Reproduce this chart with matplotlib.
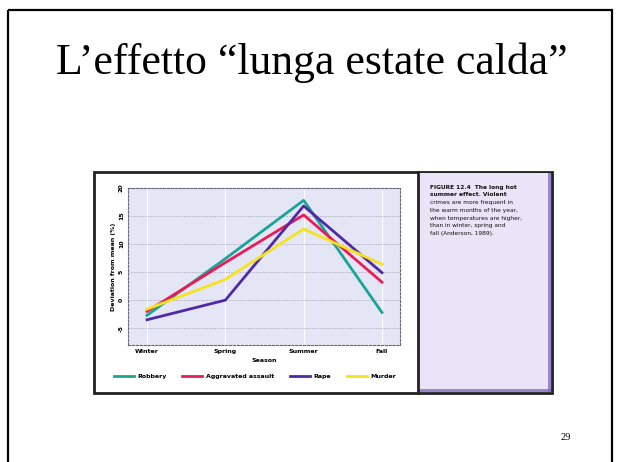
import matplotlib
matplotlib.use("Agg")
import matplotlib.pyplot as plt
from matplotlib.patches import Rectangle
from matplotlib.lines import Line2D

# Seasonal data: percent deviation from the yearly mean of violent crimes
seasons = ["Winter", "Spring", "Summer", "Fall"]
series_names = ["Robbery", "Aggravated assault", "Rape", "Murder"]
robbery = [-2.7, 7.4, 17.8, -2.2]
assault = [-2.0, 6.7, 15.2, 3.2]
rape = [-3.5, 0.0, 16.8, 4.9]
murder = [-1.6, 3.7, 12.7, 6.4]
yticks = [-5, 0, 5, 10, 15, 20]
colors = ["#17a596", "#ec1a55", "#5029a8", "#f6e21e"]

W, H = 621, 462
fig = plt.figure(figsize=(W / 100, H / 100), dpi=100)

# background layer in pixel coordinates
bg = fig.add_axes([0, 0, 1, 1])
bg.set_xlim(0, W)
bg.set_ylim(H, 0)
bg.axis("off")

# slide frame
bg.add_patch(Rectangle((8, 10), 604, 470, fill=False, ec="black", lw=1.6))

bg.text(312, 63, "L\u2019effetto \u201clunga estate calda\u201d", ha="center", va="center",
        fontsize=31.5, family="Liberation Serif", color="black")
bg.text(566, 437, "29", ha="center", va="center", fontsize=7.5,
        family="Liberation Serif", color="black")

# figure panel
bg.add_patch(Rectangle((94, 172), 458, 221, fc="white", ec="#222222", lw=2.0))
# caption panel
bg.add_patch(Rectangle((418, 173), 133, 219, fc="#ebe3f7", ec="none"))
bg.add_patch(Rectangle((548, 173), 3, 219, fc="#7b67c2", ec="none", alpha=0.75))
bg.add_patch(Rectangle((418, 389), 133, 3, fc="#7b67c2", ec="none", alpha=0.75))
bg.plot([418, 418], [172, 393], color="#222222", lw=2.0)

caption = [
    ("FIGURE 12.4  The long hot", True),
    ("summer effect. Violent", True),
    ("crimes are more frequent in", False),
    ("the warm months of the year,", False),
    ("when temperatures are higher,", False),
    ("than in winter, spring and", False),
    ("fall (Anderson, 1989).", False),
]
for i, (line, bold) in enumerate(caption):
    bg.text(430, 187 + i * 7.8, line, ha="left", va="center", fontsize=4.2,
            fontweight="bold" if bold else "normal", color="#111111")

# line chart
ax = fig.add_axes([128 / W, (H - 345) / H, 272 / W, 157 / H])
ax.set_facecolor("#e4e6f6")
x = list(range(len(seasons)))
for vals, c in zip([robbery, assault, rape, murder], colors):
    ax.plot(x, vals, color=c, lw=2.0)
ax.set_xlim(-0.243, 3.23)
ax.set_ylim(-8, 20)
ax.set_xticks(x)
ax.set_xticklabels(seasons, fontsize=4.5, fontweight="bold")
ax.set_yticks(yticks)
ax.set_yticklabels([str(v) for v in yticks], fontsize=4.5, fontweight="bold", rotation=90,
                   va="center")
ax.tick_params(length=0, pad=3)
ax.grid(axis="y", color="#9a9ab0", ls=(0, (2, 2)), lw=0.5)
ax.grid(axis="x", color="white", lw=0.8)
for s in ax.spines.values():
    s.set_color("#666677")
    s.set_linestyle((0, (2, 1.5)))
    s.set_linewidth(0.8)
ax.set_xlabel("Season", fontsize=4.5, fontweight="bold", labelpad=3)
ax.set_ylabel("Deviation from mean (%)", fontsize=4.5, fontweight="bold", labelpad=2)

handles = [Line2D([0], [0], color=c, lw=2.0) for c in colors]
fig.legend(handles, series_names, loc="center", bbox_to_anchor=(255 / W, 1 - 376 / H),
           ncol=4, frameon=False, handlelength=3.2, columnspacing=2.5,
           handletextpad=0.6, prop={"weight": "bold", "size": 4.5})

fig.savefig("out.png", dpi=100)
